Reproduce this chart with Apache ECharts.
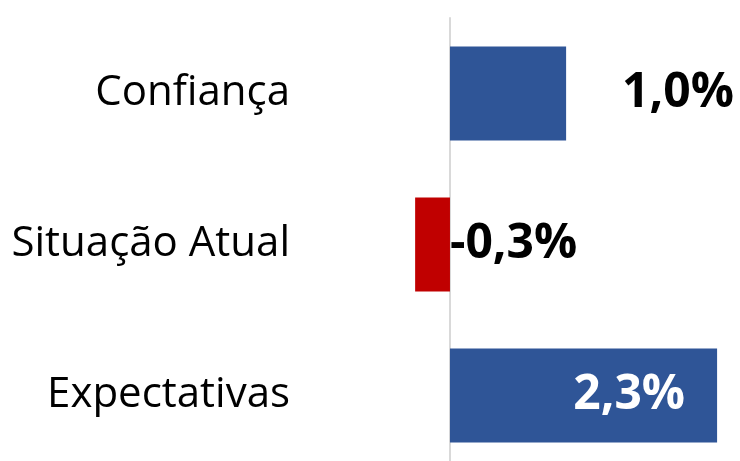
<!DOCTYPE html>
<html>
<head>
<meta charset="utf-8">
<script src="https://cdn.jsdelivr.net/npm/echarts@6/dist/echarts.min.js"></script>
<style>
  html, body { margin: 0; padding: 0; background: #fff; }
  #main { width: 740px; height: 461px; }
</style>
</head>
<body>
<div id="main"></div>
<script>
var categories = ['Confiança', 'Situação Atual', 'Expectativas'];
var values = [1.0, -0.3, 2.3];
var barColors = ['#2F5597', '#C00000', '#2F5597'];

var myChart = echarts.init(document.getElementById('main'));

function fmt(v) {
    return v.toFixed(1).replace('.', ',') + '%';
}

// posição dos rótulos como no original
var labelCfg = [
    { position: 'right', distance: 56, color: '#000' },
    { position: 'right', distance: 0, color: '#000' },
    { position: 'insideRight', distance: 32, color: '#fff' }
];

var option = {
    backgroundColor: '#fff',
    animation: false,
    grid: {
        left: 299,
        right: 11.3,
        top: 18,
        height: 453,
        containLabel: false,
        outerBoundsMode: 'none'
    },
    xAxis: {
        type: 'value',
        min: -1.3,
        max: 2.4,
        show: false
    },
    yAxis: {
        type: 'category',
        data: categories,
        inverse: true,
        axisLine: {
            onZero: true,
            lineStyle: { color: '#D9D9D9', width: 2 }
        },
        axisTick: { show: false },
        axisLabel: {
            margin: 9,
            fontFamily: 'Open Sans',
            fontSize: 42,
            color: '#000'
        }
    },
    series: [{
        type: 'bar',
        barWidth: 94,
        z: 1,
        data: values.map(function (v, i) {
            return {
                value: v,
                itemStyle: { color: barColors[i] },
                label: {
                    show: true,
                    position: labelCfg[i].position,
                    distance: labelCfg[i].distance,
                    color: labelCfg[i].color,
                    fontFamily: 'Open Sans',
                    fontWeight: 'bold',
                    fontSize: 48,
                    formatter: function (p) { return fmt(p.value); }
                }
            };
        })
    }]
};

myChart.setOption(option);
</script>
</body>
</html>
